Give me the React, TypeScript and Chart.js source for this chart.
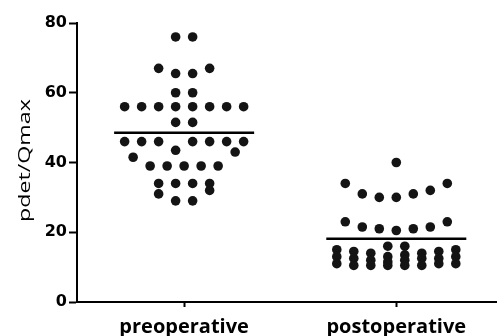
import { useEffect, useRef } from "react";
import { Chart, registerables } from "chart.js";

Chart.register(...registerables);

// Groups on the x axis
const categories = ["preoperative", "postoperative"];

// pdet/Qmax per patient, before surgery
const preoperative = [
  76, 76, 67, 67, 65.5, 65.5, 60, 60,
  56, 56, 56, 56, 56, 56, 56, 56,
  51.5, 51.5,
  46, 46, 46, 46, 46, 46, 46, 43.5, 43, 41.5,
  39, 39, 39, 39, 39,
  34, 34, 34, 34, 32, 31, 29, 29,
];

// pdet/Qmax per patient, after surgery
const postoperative = [
  40, 34, 34, 32, 31, 31, 30, 30,
  23, 23, 21.5, 21.5, 21, 21, 20.5,
  16, 16, 15, 15, 14.5, 14.5, 14, 14,
  13.5, 13, 13, 13, 12.5, 12.5, 12.5, 12, 12,
  11.5, 11, 11, 11, 10.5, 10.5, 10.5, 10.5, 10.5,
];

const yTicks = [0, 20, 40, 60, 80];
const yTitle = "pdet/Qmax";

const groups = [preoperative, postoperative];

const mean = (arr: number[]) => arr.reduce((s, v) => s + v, 0) / arr.length;

// Column scatter layout: sorted values are collected into rows of similar
// value and each row is spread sideways, lowest values nearest the centre.
function spreadRows(values: number[], center: number, unitPx: number) {
  const SPACING = 17; // px between neighbours in a row
  const ROW_SPAN = 4.2; // value range that one row may hold
  const ROW_MAX = 8; // dots per row
  const order = values.map((_, i) => i).sort((a, b) => values[a] - values[b]);
  const out: { x: number; y: number }[] = new Array(values.length);
  let i = 0;
  while (i < order.length) {
    const start = values[order[i]];
    const row: number[] = [];
    while (i < order.length && row.length < ROW_MAX && values[order[i]] < start + ROW_SPAN) {
      row.push(order[i++]);
    }
    const m = row.length;
    const slots = Array.from({ length: m }, (_, k) => k - (m - 1) / 2).sort(
      (a, b) => Math.abs(a) - Math.abs(b) || a - b
    );
    row.forEach((idx, k) => {
      out[idx] = { x: center + (slots[k] * SPACING) / unitPx, y: values[idx] };
    });
  }
  return out;
}

const yTitlePlugin = {
  id: "yTitle",
  afterDraw(chart: any) {
    const { ctx, chartArea } = chart;
    ctx.save();
    ctx.translate(25, (chartArea.top + chartArea.bottom) / 2 - 2);
    ctx.rotate(-Math.PI / 2);
    ctx.scale(1.45, 1);
    ctx.font = '16px "Open Sans"';
    ctx.fillStyle = "#000";
    ctx.textAlign = "center";
    ctx.textBaseline = "middle";
    ctx.fillText(yTitle, 0, 0);
    ctx.restore();
  },
};

export default function App() {
  const canvasRef = useRef<HTMLCanvasElement | null>(null);

  useEffect(() => {
    const canvas = canvasRef.current;
    if (!canvas) return;
    const dotColor = "#141414";
    const halfWidth = 0.33;

    const chart = new Chart(canvas, {
      type: "scatter",
      data: {
        datasets: [
          ...groups.map((vals, gi) => ({
            type: "scatter" as const,
            data: vals.map((v) => ({ x: gi, y: v })),
            pointRadius: 4.8,
            pointHoverRadius: 4.8,
            backgroundColor: dotColor,
            borderWidth: 0,
          })),
          ...groups.map((vals, gi) => ({
            type: "line" as const,
            data: [
              { x: gi - halfWidth, y: mean(vals) },
              { x: gi + halfWidth, y: mean(vals) },
            ],
            borderColor: "#000",
            borderWidth: 2.5,
            pointRadius: 0,
          })),
        ],
      },
      options: {
        animation: false,
        responsive: false,
        events: [],
        layout: { autoPadding: false, padding: { top: 23, right: 1, left: 0, bottom: 0 } },
        plugins: { legend: { display: false }, tooltip: { enabled: false } },
        scales: {
          x: {
            type: "linear",
            position: "bottom",
            min: -0.505,
            max: 1.47,
            afterBuildTicks: (scale: any) => {
              scale.ticks = categories.map((_, i) => ({ value: i }));
            },
            afterFit: (scale: any) => {
              scale.height = 34;
              scale.paddingLeft = 0;
              scale.paddingRight = 0;
            },
            ticks: {
              autoSkip: false,
              maxRotation: 0,
              padding: 8,
              color: "#000",
              font: { family: '"Open Sans"', size: 20, weight: "bold" },
              callback: (v: any) => categories[v as number] ?? "",
            },
            grid: {
              drawOnChartArea: false,
              drawTicks: true,
              tickLength: 5,
              tickWidth: 2,
              color: "#000",
            },
            border: { color: "#000", width: 2 },
          },
          y: {
            min: 0,
            max: 80,
            afterBuildTicks: (scale: any) => {
              scale.ticks = yTicks.map((v) => ({ value: v }));
            },
            afterFit: (scale: any) => {
              scale.width = 77;
            },
            ticks: {
              padding: 2,
              color: "#000",
              font: { family: '"DejaVu Sans"', size: 16, weight: "bold" },
            },
            grid: {
              drawOnChartArea: false,
              drawTicks: true,
              tickLength: 8,
              tickWidth: 2,
              color: "#000",
            },
            border: { color: "#000", width: 2 },
          },
        },
      },
      plugins: [yTitlePlugin],
    } as any);

    const xs = chart.scales.x;
    const unitPx = xs.getPixelForValue(1) - xs.getPixelForValue(0);
    groups.forEach((vals, gi) => {
      chart.data.datasets[gi].data = spreadRows(vals, gi, unitPx) as any;
    });
    chart.update("none");

    return () => chart.destroy();
  }, []);

  return (
    <div style={{ position: "absolute", left: 0, top: 0, width: 497, height: 336, background: "#fff" }}>
      <canvas ref={canvasRef} width={497} height={336} />
    </div>
  );
}
